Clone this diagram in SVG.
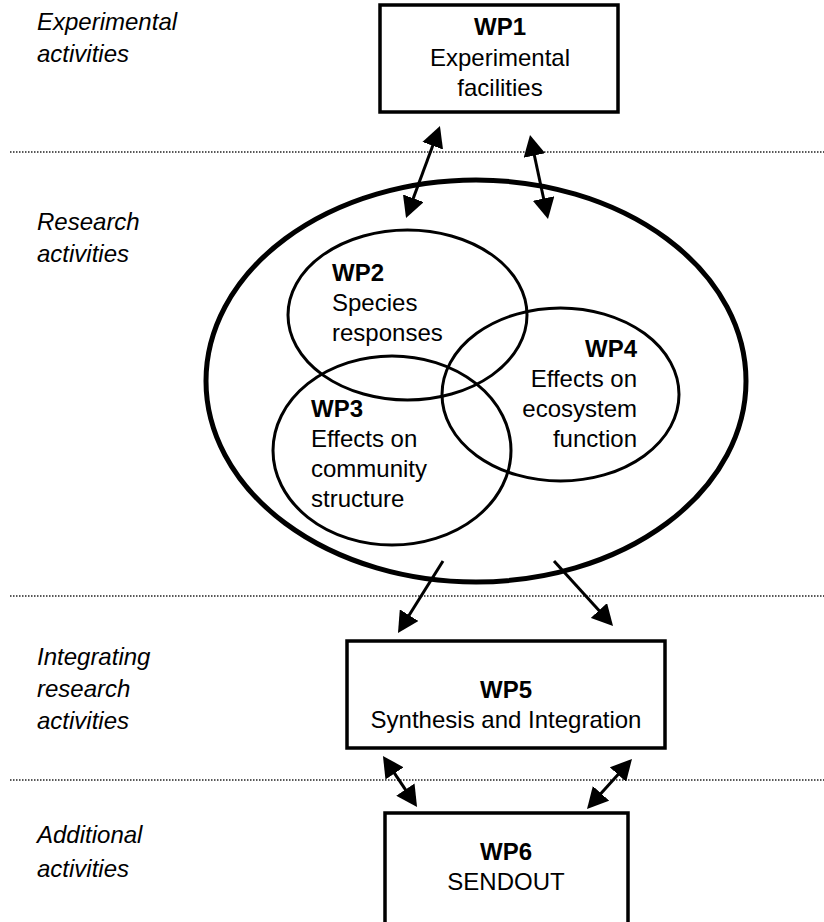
<svg xmlns="http://www.w3.org/2000/svg" width="824" height="922" viewBox="0 0 824 922">
<style>
text{font-family:"Liberation Sans",Arial,sans-serif;font-size:24px;fill:#000}
.lab{font-style:italic}
.b{font-weight:bold}
.box{fill:#fff;stroke:#000;stroke-width:3.5}
.ell{fill:none;stroke:#000;stroke-width:3}
.big{fill:none;stroke:#000;stroke-width:5}
.dot{stroke:#222;stroke-width:1.5;stroke-dasharray:1.5 1.5;fill:none}
.arr{stroke:#000;stroke-width:3;fill:none}
.c{text-anchor:middle}
.r{text-anchor:end}
</style>
<defs>
<marker id="ah" viewBox="0 0 21 22" refX="11" refY="11" markerWidth="21" markerHeight="22" markerUnits="userSpaceOnUse" orient="auto-start-reverse">
<path d="M0,0 L21,11 L0,22 z" fill="#000"/>
</marker>
</defs>
<rect width="824" height="922" fill="#fff"/>
<g id="separators">
<line class="dot" x1="10" y1="152" x2="824" y2="152"/>
<line class="dot" x1="10" y1="596" x2="824" y2="596"/>
<line class="dot" x1="10" y1="780" x2="824" y2="780"/>
</g>
<g id="labels">
<text class="lab" x="37" y="30">Experimental</text>
<text class="lab" x="37" y="62">activities</text>
<text class="lab" x="37" y="230">Research</text>
<text class="lab" x="37" y="262">activities</text>
<text class="lab" x="37" y="665">Integrating</text>
<text class="lab" x="37" y="697">research</text>
<text class="lab" x="37" y="729">activities</text>
<text class="lab" x="37" y="843">Additional</text>
<text class="lab" x="37" y="877">activities</text>
</g>
<g id="WP1">
<rect class="box" x="380" y="5" width="238" height="107"/>
<text class="c b" x="500" y="35">WP1</text>
<text class="c" x="500" y="66">Experimental</text>
<text class="c" x="500" y="96">facilities</text>
</g>
<g id="research">
<ellipse class="big" cx="476" cy="381" rx="270" ry="201"/>
</g>
<g id="WP2">
<ellipse class="ell" cx="407.5" cy="315" rx="119.5" ry="85"/>
<text class="b" x="332" y="281">WP2</text>
<text x="332" y="311">Species</text>
<text x="332" y="341">responses</text>
</g>
<g id="WP3">
<ellipse class="ell" cx="392" cy="450.5" rx="119" ry="94.5"/>
<text class="b" x="311" y="417">WP3</text>
<text x="311" y="447">Effects on</text>
<text x="311" y="477">community</text>
<text x="311" y="507">structure</text>
</g>
<g id="WP4">
<ellipse class="ell" cx="560.5" cy="394.5" rx="118.5" ry="86.5"/>
<text class="r b" x="637" y="357">WP4</text>
<text class="r" x="637" y="387">Effects on</text>
<text class="r" x="637" y="417">ecosystem</text>
<text class="r" x="637" y="447">function</text>
</g>
<g id="WP5">
<rect class="box" x="347" y="641" width="318" height="107"/>
<text class="c b" x="506" y="698">WP5</text>
<text class="c" x="506" y="728">Synthesis and Integration</text>
</g>
<g id="WP6">
<rect class="box" x="385" y="813" width="243" height="120"/>
<text class="c b" x="506" y="860">WP6</text>
<text class="c" x="506" y="890">SENDOUT</text>
</g>
<g id="connectors">
<line class="arr" x1="436.5" y1="135.4" x2="409.5" y2="208.6" marker-start="url(#ah)" marker-end="url(#ah)"/>
<line class="arr" x1="532.1" y1="144.8" x2="545.9" y2="209.2" marker-start="url(#ah)" marker-end="url(#ah)"/>
<line class="arr" x1="443" y1="561" x2="403.3" y2="624.5" marker-end="url(#ah)"/>
<line class="arr" x1="554" y1="561" x2="606.3" y2="618.6" marker-end="url(#ah)"/>
<line class="arr" x1="388.5" y1="764.3" x2="411.5" y2="798.7" marker-start="url(#ah)" marker-end="url(#ah)"/>
<line class="arr" x1="625.3" y1="766.4" x2="593.7" y2="801.6" marker-start="url(#ah)" marker-end="url(#ah)"/>
</g>
</svg>
